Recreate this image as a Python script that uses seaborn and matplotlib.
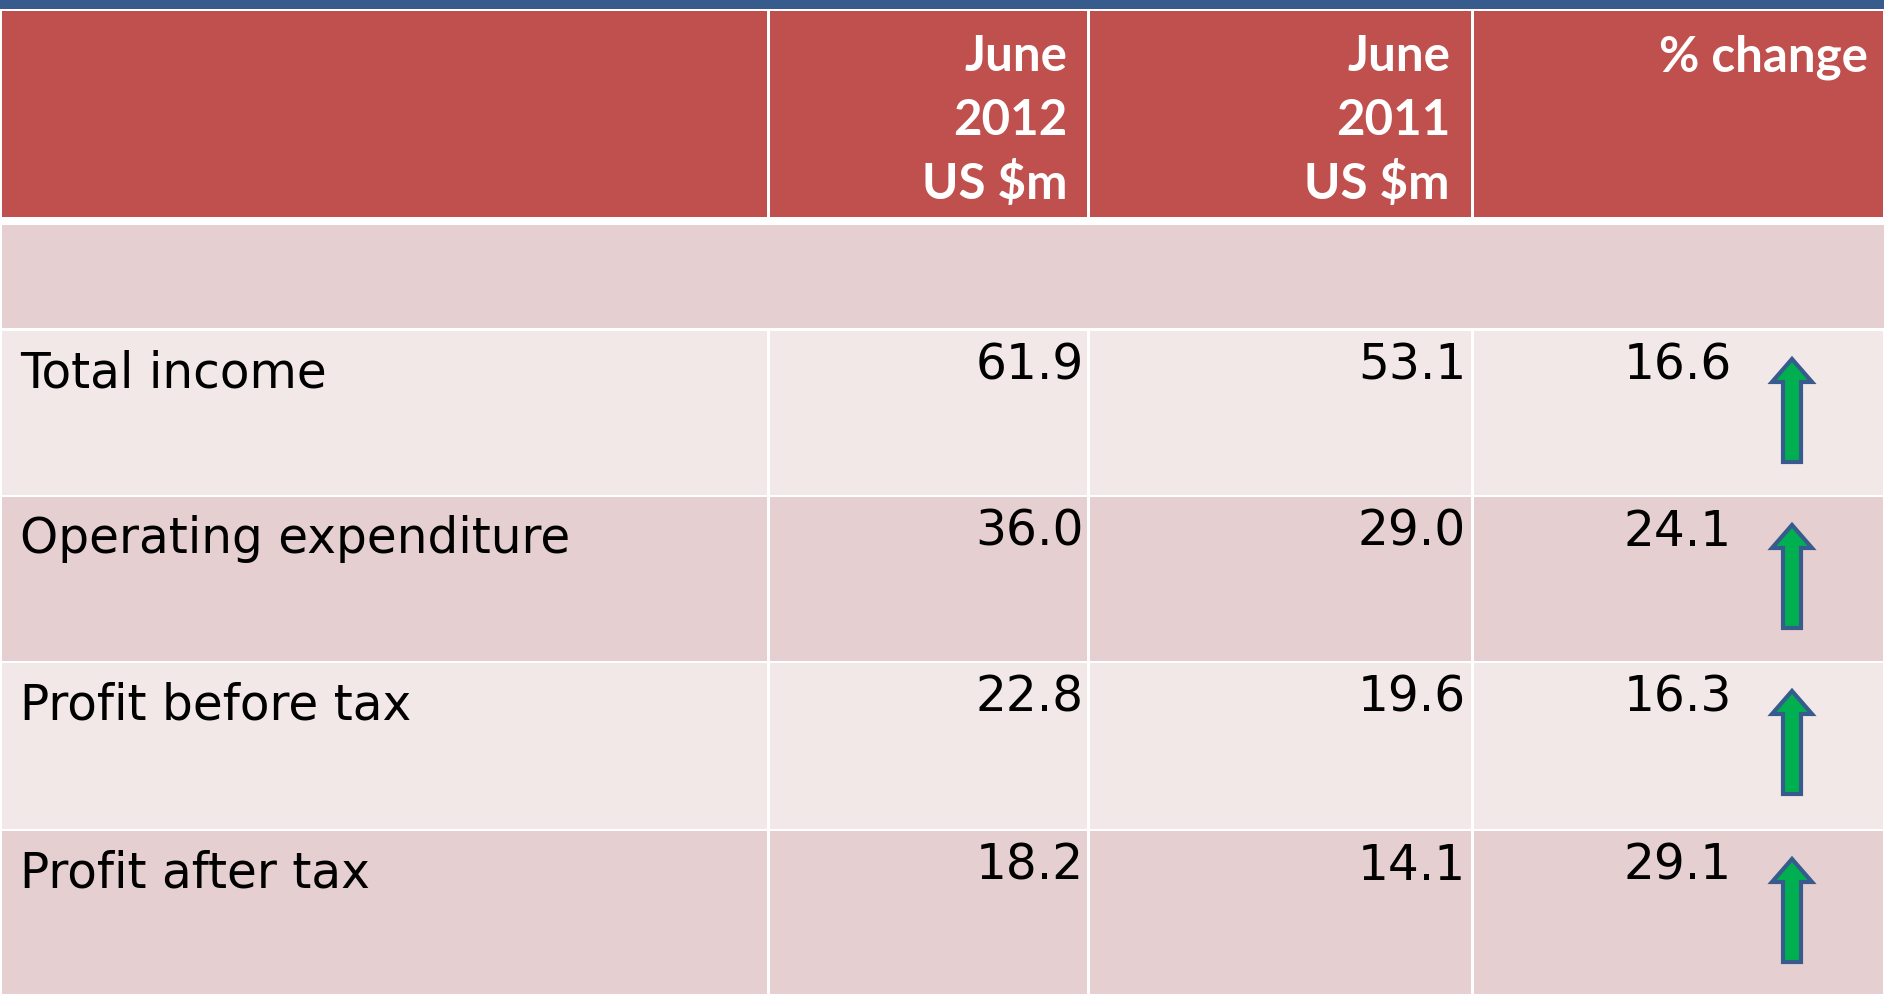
import matplotlib
matplotlib.use("Agg")
import matplotlib.pyplot as plt
from matplotlib.patches import Rectangle, FancyArrow
import seaborn as sns

# table content
row_labels = ["Total income", "Operating expenditure", "Profit before tax", "Profit after tax"]
june_2012 = [61.9, 36.0, 22.8, 18.2]
june_2011 = [53.1, 29.0, 19.6, 14.1]
pct_change = [16.6, 24.1, 16.3, 29.1]
header_2012 = ["June", "2012", "US $m"]
header_2011 = ["June", "2011", "US $m"]
header_pct = ["% change"]

sns.set_theme(style="white")
plt.rcParams["font.family"] = ["DejaVu Sans"]

RED = "#C0504D"
BAND_DARK = "#E6CFD0"
BAND_LIGHT = "#F2E8E8"
BLUE = "#375B8C"
GREEN = "#00B050"

W, H = 1884, 994
fig = plt.figure(figsize=(W / 100, H / 100), dpi=100)
ax = fig.add_axes([0, 0, 1, 1])
ax.set_xlim(0, W)
ax.set_ylim(H, 0)
ax.axis("off")

col_edges = [0, 768, 1088, 1472, W]
row_edges = [330, 496, 662, 830, 996]

# top blue bar
ax.add_patch(Rectangle((0, 0), W, 8.5, color=BLUE, lw=0))

# header cells
for i in range(4):
    x0, x1 = col_edges[i], col_edges[i + 1]
    ax.add_patch(Rectangle((x0 + 1.5, 11), x1 - x0 - 3, 206, color=RED, lw=0))

# blank banded row under the header
ax.add_patch(Rectangle((1.5, 225), W - 1.5, 102.5, color=BAND_DARK, lw=0))

# body cells
for r in range(4):
    y0, y1 = row_edges[r], row_edges[r + 1]
    c = BAND_LIGHT if r % 2 == 0 else BAND_DARK
    for i in range(4):
        x0, x1 = col_edges[i], col_edges[i + 1]
        ax.add_patch(Rectangle((x0 + 1.5, y0 + 1.2), x1 - x0 - 3, y1 - y0 - 2.4, color=c, lw=0))

# header text
hdr_kw = dict(color="white", fontsize=35.5, fontweight="bold", family=["Lato", "DejaVu Sans"],
              ha="right", va="baseline")
for lines, xr in [(header_2012, 1067), (header_2011, 1450), (header_pct, 1868)]:
    for k, t in enumerate(lines):
        ax.text(xr, 71 + k * 64, t, **hdr_kw)

# body text
body_kw = dict(color="black", fontsize=35, va="baseline")
for r, lab in enumerate(row_labels):
    top = row_edges[r]
    ax.text(20, top + 57, lab, ha="left", **body_kw)
    ax.text(1084, top + 50, f"{june_2012[r]:.1f}", ha="right", **body_kw)
    ax.text(1466, top + 50, f"{june_2011[r]:.1f}", ha="right", **body_kw)
    ax.text(1732, top + 50, f"{pct_change[r]:.1f}", ha="right", **body_kw)
    # up arrow for positive change
    if pct_change[r] > 0:
        ax.add_patch(FancyArrow(1792, top + 132, 0, -103, width=18, head_width=40,
                                head_length=23, length_includes_head=True,
                                facecolor=GREEN, edgecolor=BLUE, lw=3))

fig.savefig("out.png", dpi=100)
